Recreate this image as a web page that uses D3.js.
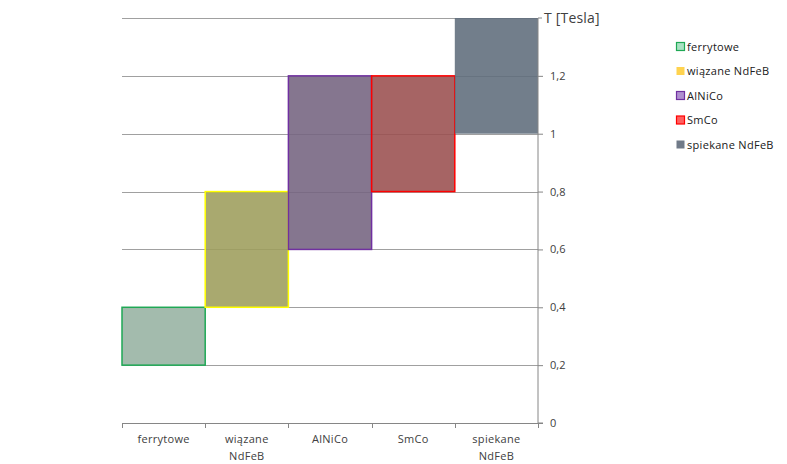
<!DOCTYPE html>
<html>
<head>
<meta charset="utf-8">
<script src="https://cdn.jsdelivr.net/npm/d3@7"></script>
<style>
  body { margin: 0; background: #fff; }
  text { font-family: "Open Sans", "DejaVu Sans", sans-serif; }
</style>
</head>
<body>
<svg id="svg"></svg>
<script>
// magnet types and their induction ranges (Tesla)
const categories = ["ferrytowe", "wiązane NdFeB", "AlNiCo", "SmCo", "spiekane NdFeB"];
const lowValues = [0.2, 0.4, 0.6, 0.8, 1.0];
const highValues = [0.4, 0.8, 1.2, 1.2, 1.4];
const yTicks = [0, 0.2, 0.4, 0.6, 0.8, 1, 1.2];
const axisTitle = "T [Tesla]";

const barFills = ["#96b2a2", "#9d9d5b", "#746380", "#9a4f4f", "#5e6c7b"];
const barStrokes = ["#1fa855", "#ffff00", "#7030a0", "#ff0000", "none"];
const legendFills = ["#a9e2c3", "#ffd34f", "#b08fd0", "#ff6060", "#707a88"];
const legendStrokes = ["#1fa855", "none", "#7030a0", "#ff0000", "none"];

const width = 787;
const height = 464;
const margin = { top: 18, right: 249, bottom: 41, left: 122 };
const chartWidth = width - margin.left - margin.right;
const chartHeight = height - margin.top - margin.bottom;

let svg = d3.select("#svg").attr("width", width).attr("height", height);

let chart = svg.append("g")
    .attr("transform", `translate(${margin.left},${margin.top})`);

let xScale = d3.scaleBand()
    .domain(categories)
    .range([0, chartWidth])
    .padding(0);

let yScale = d3.scaleLinear()
    .domain([0, 1.4])
    .range([chartHeight, 0]);

// gridlines
chart.selectAll(".grid")
    .data(yTicks.concat([1.4]))
    .enter()
    .append("line")
        .attr("x1", 0)
        .attr("x2", chartWidth)
        .attr("y1", d => Math.round(yScale(d)) + 0.5)
        .attr("y2", d => Math.round(yScale(d)) + 0.5)
        .attr("stroke", "#a0a0a0")
        .attr("stroke-width", 1);

// floating bars
chart.selectAll(".bar")
    .data(categories)
    .enter()
    .append("rect")
        .attr("x", d => xScale(d))
        .attr("y", (d, i) => yScale(highValues[i]))
        .attr("width", xScale.bandwidth())
        .attr("height", (d, i) => yScale(lowValues[i]) - yScale(highValues[i]))
        .attr("fill", (d, i) => barFills[i])
        .attr("fill-opacity", 0.88)
        .attr("stroke", (d, i) => barStrokes[i])
        .attr("stroke-width", 1.5);

// right axis
let yAxis = chart.append("g")
    .attr("transform", `translate(${chartWidth},0)`)
    .call(d3.axisRight(yScale)
        .tickValues(yTicks)
        .tickSize(5)
        .tickPadding(7)
        .tickFormat(d => d3.format("~g")(d).replace(".", ",")));
yAxis.select(".domain").attr("stroke", "#868686").attr("d", `M4,0H0V${chartHeight}H5`);
yAxis.selectAll(".tick line").attr("stroke", "#868686");
yAxis.selectAll(".tick text")
    .attr("fill", "#404040")
    .style("font-size", "11px");

chart.append("text")
    .attr("x", chartWidth + 6)
    .attr("y", 0)
    .attr("dy", "0.35em")
    .attr("fill", "#404040")
    .style("font-size", "14px")
    .style("letter-spacing", "0.2px")
    .text(axisTitle);

// bottom axis
let xAxis = chart.append("g")
    .attr("transform", `translate(0,${chartHeight})`);
xAxis.append("line")
    .attr("x1", 0).attr("x2", chartWidth)
    .attr("y1", 0.5).attr("y2", 0.5)
    .attr("stroke", "#868686");
xAxis.selectAll(".xtick")
    .data(d3.range(categories.length + 1))
    .enter()
    .append("line")
        .attr("x1", i => Math.round(i * xScale.step()) + 0.5)
        .attr("x2", i => Math.round(i * xScale.step()) + 0.5)
        .attr("y1", 0)
        .attr("y2", 5)
        .attr("stroke", "#868686");

xAxis.selectAll(".xlabel")
    .data(categories)
    .enter()
    .append("text")
        .attr("x", d => xScale(d) + xScale.bandwidth() / 2)
        .attr("y", 20)
        .attr("text-anchor", "middle")
        .attr("fill", "#404040")
        .style("font-size", "11px")
        .style("letter-spacing", "0.3px")
        .each(function (d) {
            let words = d.split(" ");
            let el = d3.select(this);
            words.forEach((w, k) => {
                el.append("tspan")
                    .attr("x", xScale(d) + xScale.bandwidth() / 2)
                    .attr("dy", k === 0 ? 0 : 17)
                    .text(w);
            });
        });

// legend
let legend = svg.append("g").attr("transform", "translate(676,42)");
let items = legend.selectAll(".item")
    .data(categories)
    .enter()
    .append("g")
        .attr("transform", (d, i) => `translate(0,${i * 24.5})`);
items.append("rect")
    .attr("x", 0.5).attr("y", 0.5)
    .attr("width", 8).attr("height", 8)
    .attr("fill", (d, i) => legendFills[i])
    .attr("stroke", (d, i) => legendStrokes[i])
    .attr("stroke-width", 1.2);
items.append("text")
    .attr("x", 11)
    .attr("y", 5)
    .attr("dy", "0.35em")
    .attr("fill", "#202020")
    .style("font-size", "11px")
    .style("letter-spacing", "0.3px")
    .text(d => d);
</script>
</body>
</html>
